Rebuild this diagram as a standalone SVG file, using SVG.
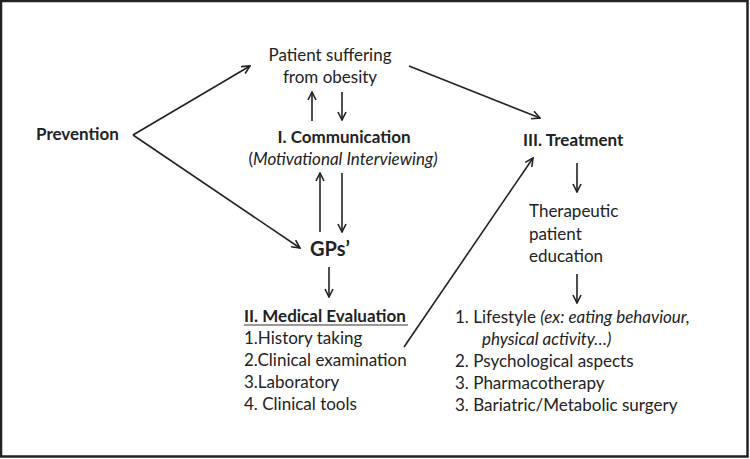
<svg xmlns="http://www.w3.org/2000/svg" width="750" height="459" viewBox="0 0 750 459">
<style>
text{font-family:Lato,"Open Sans",sans-serif;font-size:17px;fill:#222}
.b{font-weight:bold}
.i{font-style:italic}
.c{text-anchor:middle}
.ln{stroke:#222;stroke-width:1.6;fill:none}
</style>
<defs>
<marker id="ah" viewBox="0 0 10 10" refX="9" refY="5" markerWidth="10" markerHeight="10" markerUnits="userSpaceOnUse" orient="auto">
<path d="M1,1 L9,5 L1,9" fill="none" stroke="#222" stroke-width="1.6"/>
</marker>
</defs>
<rect x="0" y="0" width="750" height="459" fill="#fff"/>
<rect x="1" y="1" width="746.5" height="455.5" fill="none" stroke="#222" stroke-width="2.5"/>
<g id="connectors" class="ln">
<path d="M133,135 L250,66" marker-end="url(#ah)"/>
<path d="M133,135 L300,248" marker-end="url(#ah)"/>
<path d="M409,66 L540,118" marker-end="url(#ah)"/>
<path d="M312,121 L312,92" marker-end="url(#ah)"/>
<path d="M342,92 L342,120" marker-end="url(#ah)"/>
<path d="M320,232 L320,173" marker-end="url(#ah)"/>
<path d="M342,173 L342,232" marker-end="url(#ah)"/>
<path d="M329,267 L329,297" marker-end="url(#ah)"/>
<path d="M404,347 L533,158" marker-end="url(#ah)"/>
<path d="M577,163 L577,192" marker-end="url(#ah)"/>
<path d="M577,274 L577,303" marker-end="url(#ah)"/>
</g>
<g id="prevention"><text class="b" x="36" y="140">Prevention</text></g>
<g id="patient">
<text class="c" x="330" y="61">Patient suffering</text>
<text class="c" x="330" y="83">from obesity</text>
</g>
<g id="communication">
<text class="b c" x="344" y="143">I. Communication</text>
<text class="c" x="343" y="165">(<tspan class="i">Motivational Interviewing)</tspan></text>
</g>
<g id="gps"><text class="b" x="310" y="256" style="font-size:20px">GPs’</text></g>
<g id="evaluation">
<text class="b" x="244" y="322">II. Medical Evaluation</text>
<line x1="244" y1="325" x2="408" y2="325" stroke="#777" stroke-width="1.3"/>
<text x="244" y="344">1.History taking</text>
<text x="244" y="366">2.Clinical examination</text>
<text x="244" y="388">3.Laboratory</text>
<text x="244" y="410">4. Clinical tools</text>
</g>
<g id="treatment"><text class="b" x="523" y="146">III. Treatment</text></g>
<g id="education">
<text x="529" y="217">Therapeutic</text>
<text x="529" y="240">patient</text>
<text x="529" y="262">education</text>
</g>
<g id="treatments">
<text x="455" y="323">1. Lifestyle <tspan class="i">(ex: eating behaviour,</tspan></text>
<text class="i" x="482" y="345">physical activity…)</text>
<text x="455" y="367">2. Psychological aspects</text>
<text x="455" y="389">3. Pharmacotherapy</text>
<text x="455" y="411">3. Bariatric/Metabolic surgery</text>
</g>
</svg>
